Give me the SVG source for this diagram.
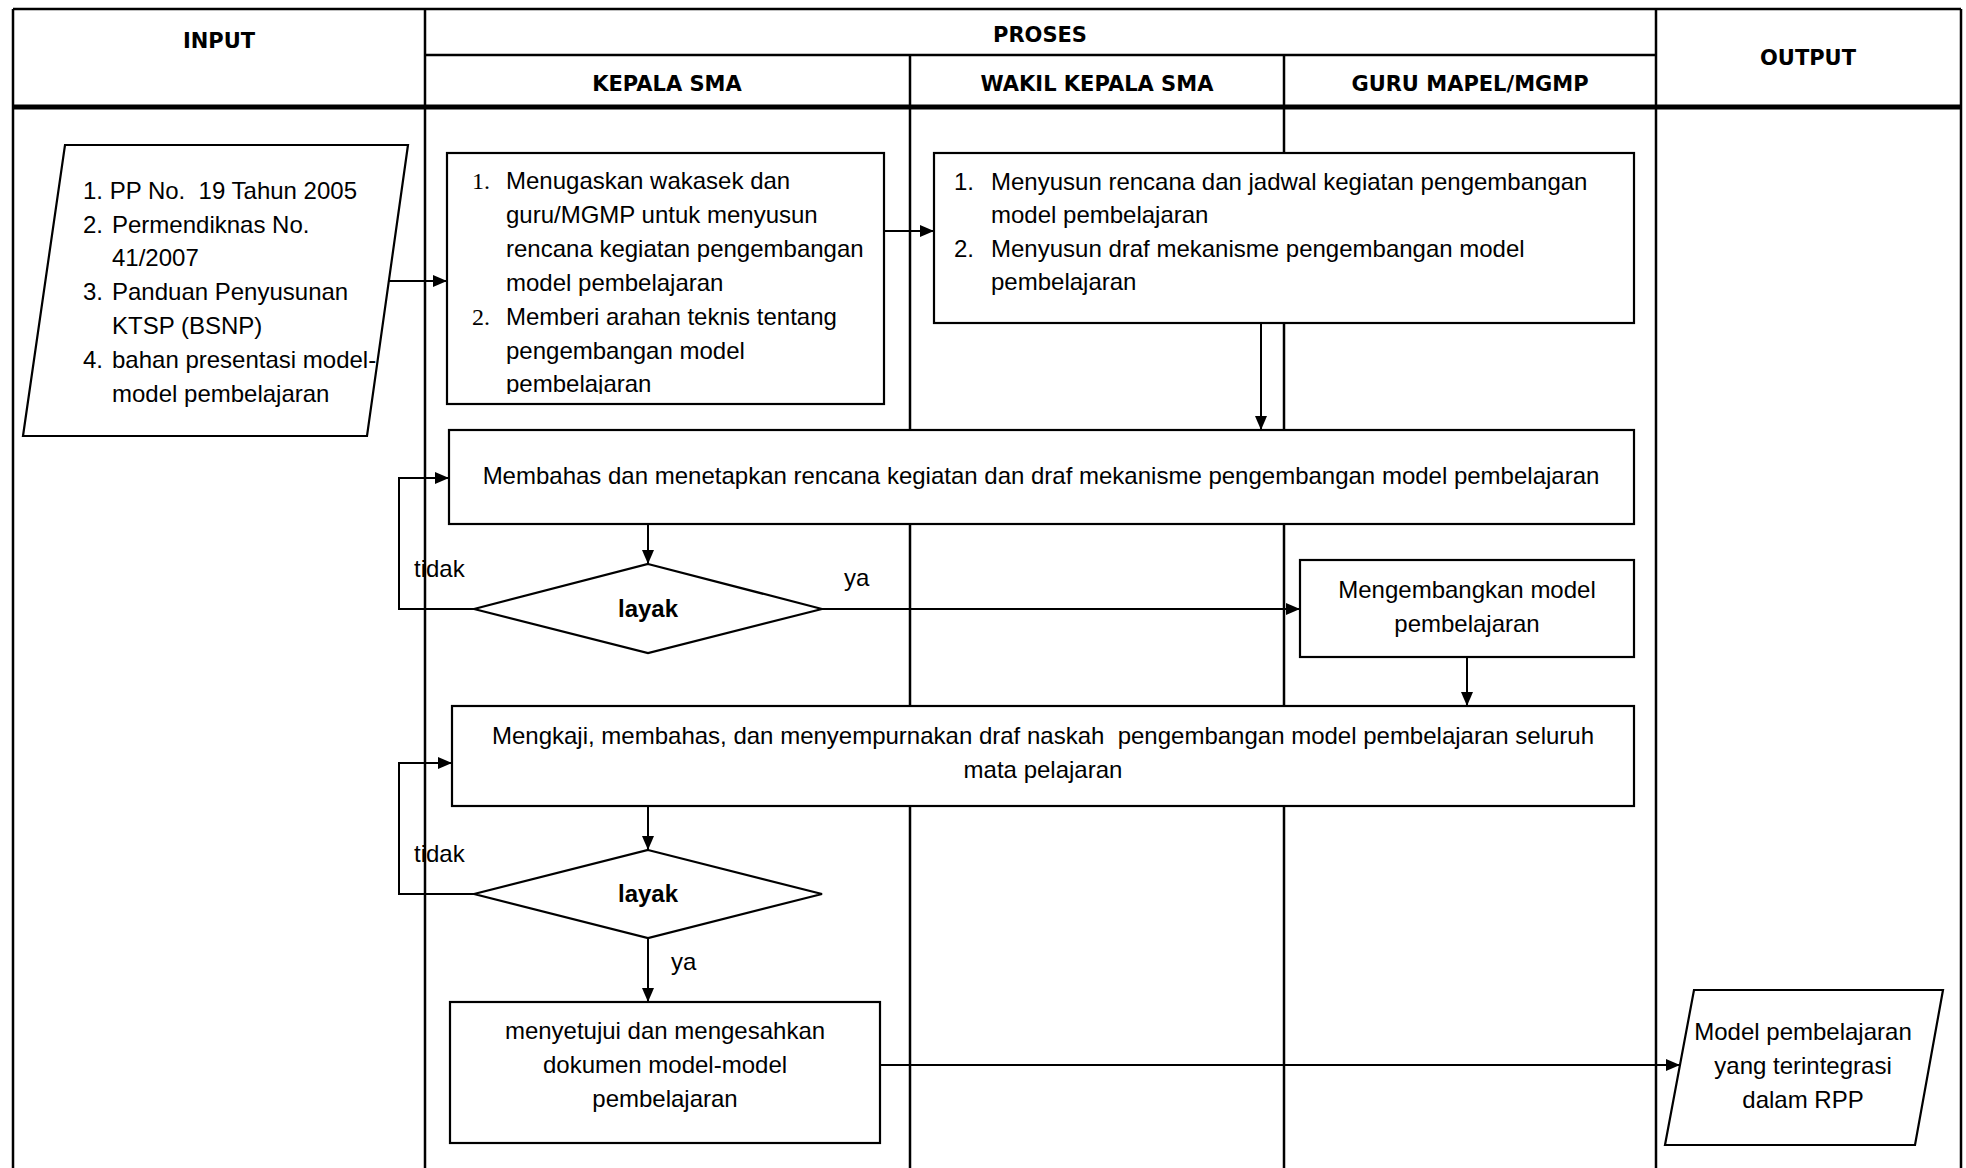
<svg xmlns="http://www.w3.org/2000/svg" width="1966" height="1168" viewBox="0 0 1966 1168">
<style>
.ln{stroke:#000;stroke-width:2.5;fill:none}
.thick{stroke:#000;stroke-width:5;fill:none}
.hd{font-family:"DejaVu Sans","Liberation Sans",sans-serif;font-weight:bold;font-size:21px;text-anchor:middle;fill:#000}
.box{fill:#fff;stroke:#000;stroke-width:2.2}
.t{font-family:"Liberation Sans",Arial,sans-serif;font-size:24px;fill:#000}
.c{text-anchor:middle}
.n{font-family:"Liberation Serif","Times New Roman",serif}
.b{font-weight:bold}
.conn{stroke:#000;stroke-width:2;fill:none}
</style>
<defs>
<marker id="arr" markerUnits="userSpaceOnUse" markerWidth="16" markerHeight="14" refX="14" refY="6" orient="auto"><path d="M0,0 L14,6 L0,12 z" fill="#000"/></marker>
<clipPath id="clip1"><rect x="447" y="153" width="437" height="241"/></clipPath>
</defs>
<rect width="1966" height="1168" fill="#fff"/>
<g id="table">
<line class="ln" x1="13" y1="9" x2="1961" y2="9"/>
<line class="ln" x1="13" y1="9" x2="13" y2="1168"/>
<line class="ln" x1="1961" y1="9" x2="1961" y2="1168"/>
<line class="ln" x1="425" y1="55" x2="1656" y2="55"/>
<line class="thick" x1="13" y1="107" x2="1961" y2="107"/>
<line class="ln" x1="425" y1="9" x2="425" y2="1168"/>
<line class="ln" x1="910" y1="55" x2="910" y2="1168"/>
<line class="ln" x1="1284" y1="55" x2="1284" y2="1168"/>
<line class="ln" x1="1656" y1="9" x2="1656" y2="1168"/>
<text class="hd" x="219" y="48">INPUT</text>
<text class="hd" x="1040" y="42">PROSES</text>
<text class="hd" x="667" y="91">KEPALA SMA</text>
<text class="hd" x="1097" y="91">WAKIL KEPALA SMA</text>
<text class="hd" x="1470" y="91">GURU MAPEL/MGMP</text>
<text class="hd" x="1808" y="65">OUTPUT</text>
</g>
<g id="connectors">
<line class="conn" x1="385" y1="281" x2="447" y2="281" marker-end="url(#arr)"/>
<line class="conn" x1="885" y1="231" x2="934" y2="231" marker-end="url(#arr)"/>
<line class="conn" x1="1261" y1="323" x2="1261" y2="430" marker-end="url(#arr)"/>
<line class="conn" x1="648" y1="524" x2="648" y2="564" marker-end="url(#arr)"/>
<polyline class="conn" points="474,609 399,609 399,478 449,478" marker-end="url(#arr)"/>
<line class="conn" x1="822" y1="609" x2="1300" y2="609" marker-end="url(#arr)"/>
<line class="conn" x1="1467" y1="657" x2="1467" y2="706" marker-end="url(#arr)"/>
<line class="conn" x1="648" y1="806" x2="648" y2="850" marker-end="url(#arr)"/>
<polyline class="conn" points="474,894 399,894 399,763 452,763" marker-end="url(#arr)"/>
<line class="conn" x1="648" y1="938" x2="648" y2="1002" marker-end="url(#arr)"/>
<line class="conn" x1="880" y1="1065" x2="1680" y2="1065" marker-end="url(#arr)"/>
<text class="t" x="414" y="577">tidak</text>
<text class="t" x="844" y="586">ya</text>
<text class="t" x="414" y="862">tidak</text>
<text class="t" x="671" y="970">ya</text>
</g>
<g id="input">
<polygon class="box" points="65,145 408,145 367,436 23,436"/>
<text class="t" x="83" y="199">1. PP No.&#160; 19 Tahun 2005</text>
<text class="t" x="83" y="233">2.</text><text class="t" x="112" y="233">Permendiknas No.</text>
<text class="t" x="112" y="266">41/2007</text>
<text class="t" x="83" y="300">3.</text><text class="t" x="112" y="300">Panduan Penyusunan</text>
<text class="t" x="112" y="334">KTSP (BSNP)</text>
<text class="t" x="83" y="368">4.</text><text class="t" x="112" y="368">bahan presentasi model-</text>
<text class="t" x="112" y="402">model pembelajaran</text>
</g>
<g id="kepala-tugas">
<rect class="box" x="447" y="153" width="437" height="251"/>
<g clip-path="url(#clip1)">
<text class="t n" x="472" y="189">1.</text><text class="t" x="506" y="189">Menugaskan wakasek dan</text>
<text class="t" x="506" y="223">guru/MGMP untuk menyusun</text>
<text class="t" x="506" y="257">rencana kegiatan pengembangan</text>
<text class="t" x="506" y="291">model pembelajaran</text>
<text class="t n" x="472" y="325">2.</text><text class="t" x="506" y="325">Memberi arahan teknis tentang</text>
<text class="t" x="506" y="359">pengembangan model</text>
<text class="t" x="506" y="392">pembelajaran</text>
</g>
</g>
<g id="wakil-susun">
<rect class="box" x="934" y="153" width="700" height="170"/>
<text class="t" x="954" y="190">1.</text><text class="t" x="991" y="190">Menyusun rencana dan jadwal kegiatan pengembangan</text>
<text class="t" x="991" y="223">model pembelajaran</text>
<text class="t" x="954" y="257">2.</text><text class="t" x="991" y="257">Menyusun draf mekanisme pengembangan model</text>
<text class="t" x="991" y="290">pembelajaran</text>
</g>
<g id="membahas">
<rect class="box" x="449" y="430" width="1185" height="94"/>
<text class="t c" x="1041" y="484">Membahas dan menetapkan rencana kegiatan dan draf mekanisme pengembangan model pembelajaran</text>
</g>
<g id="layak1">
<polygon class="box" points="648,564 822,609 648,653 474,609"/>
<text class="t c b" x="648" y="617">layak</text>
</g>
<g id="mengembangkan">
<rect class="box" x="1300" y="560" width="334" height="97"/>
<text class="t c" x="1467" y="598">Mengembangkan model</text>
<text class="t c" x="1467" y="632">pembelajaran</text>
</g>
<g id="mengkaji">
<rect class="box" x="452" y="706" width="1182" height="100"/>
<text class="t c" x="1043" y="744">Mengkaji, membahas, dan menyempurnakan draf naskah&#160; pengembangan model pembelajaran seluruh</text>
<text class="t c" x="1043" y="778">mata pelajaran</text>
</g>
<g id="layak2">
<polygon class="box" points="648,850 822,894 648,938 474,894"/>
<text class="t c b" x="648" y="902">layak</text>
</g>
<g id="menyetujui">
<rect class="box" x="450" y="1002" width="430" height="141"/>
<text class="t c" x="665" y="1039">menyetujui dan mengesahkan</text>
<text class="t c" x="665" y="1073">dokumen model-model</text>
<text class="t c" x="665" y="1107">pembelajaran</text>
</g>
<g id="output">
<polygon class="box" points="1694,990 1943,990 1915,1145 1665,1145"/>
<text class="t c" x="1803" y="1040">Model pembelajaran</text>
<text class="t c" x="1803" y="1074">yang terintegrasi</text>
<text class="t c" x="1803" y="1108">dalam RPP</text>
</g>
</svg>
